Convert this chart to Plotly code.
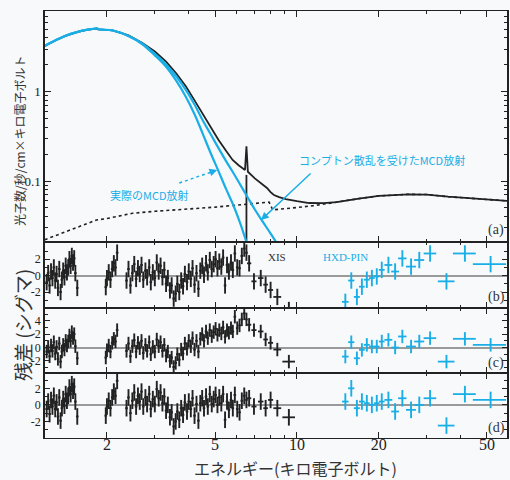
import numpy as np
import plotly.graph_objects as go
from plotly.subplots import make_subplots

BLUE = '#19aee6'
INK = '#222222'
BG = '#f8f9fb'
SERIF = 'Liberation Serif'
JP = 'Noto Sans CJK JP'

# ---------------- panel (a): model components ----------------
total_energy = [1.18, 1.22, 1.29, 1.40, 1.55, 1.70, 1.84, 1.86, 2.1, 2.4, 2.7, 3.0, 3.3, 3.6,
                3.9, 4.2, 4.5, 4.8, 5.14, 5.5, 5.8, 6.1, 6.44, 6.52, 6.6, 7.0, 7.4, 7.76,
                8.0, 8.23, 8.6, 9.1, 10.0, 11.1, 12.5, 14.0, 16.9, 20.0, 25.7, 30.0, 36.0,
                45.0, 60.0]
total_flux = [3.25, 3.45, 3.75, 4.2, 4.65, 4.95, 5.1, 5.0, 4.87, 4.27, 3.52, 2.82, 2.17, 1.6,
              1.15, 0.8, 0.56, 0.4, 0.29, 0.215, 0.172, 0.15, 0.133, 0.245, 0.127, 0.107,
              0.093, 0.0835, 0.075, 0.0697, 0.066, 0.0628, 0.0595, 0.0567, 0.0565, 0.058,
              0.0635, 0.068, 0.071, 0.0705, 0.0667, 0.0635, 0.0598]

mcd_energy = [1.18, 1.22, 1.29, 1.40, 1.55, 1.70, 1.84, 1.86, 2.1, 2.4, 2.7, 3.0, 3.3, 3.6,
              3.9, 4.2, 4.5, 4.8, 5.14, 5.5, 5.8, 6.2, 6.6, 7.0]
mcd_flux = [3.25, 3.45, 3.75, 4.2, 4.65, 4.95, 5.1, 5.0, 4.85, 4.2, 3.4, 2.55, 1.9, 1.32,
            0.88, 0.56, 0.34, 0.21, 0.13, 0.08, 0.056, 0.033, 0.0185, 0.011]

comp_energy = [1.18, 1.22, 1.29, 1.40, 1.55, 1.70, 1.84, 1.86, 2.1, 2.4, 2.7, 3.0, 3.3, 3.6,
               3.9, 4.2, 4.5, 4.8, 5.14, 5.5, 5.8, 6.2, 6.6, 7.0, 7.4, 7.8, 8.4, 9.0]
comp_flux = [3.25, 3.45, 3.75, 4.2, 4.65, 4.95, 5.1, 5.0, 4.85, 4.22, 3.45, 2.65, 2.02, 1.48,
             1.05, 0.72, 0.48, 0.34, 0.235, 0.165, 0.127, 0.09, 0.065, 0.048, 0.037, 0.029,
             0.0205, 0.0145]

pl_energy = [1.18, 1.4, 1.6, 1.83, 2.0, 2.48, 3.0, 3.5, 4.0, 5.0, 6.0, 7.0, 7.9, 8.15, 9.0,
             10.0, 11.5, 13.0, 14.0, 16.9, 20.0, 25.7, 30.0, 36.0, 45.0, 60.0]
pl_flux = [0.022, 0.027, 0.0318, 0.0366, 0.038, 0.0435, 0.0458, 0.0472, 0.0484, 0.051,
           0.0537, 0.056, 0.058, 0.0475, 0.0485, 0.0505, 0.053, 0.0565, 0.058, 0.0635,
           0.068, 0.071, 0.0705, 0.0667, 0.0635, 0.0598]

line_energy = [6.52, 6.52]
line_flux = [0.117, 0.01]

# ---------------- residuals: XIS ----------------
xis_energy = [
    1.20, 1.215, 1.23, 1.245, 1.26, 1.275, 1.29, 1.305, 1.32, 1.335, 1.35, 1.365, 1.38, 1.395,
    1.41, 1.425, 1.44, 1.455, 1.47, 1.485, 1.50, 1.515, 1.53, 1.555,
    1.98, 2.00, 2.03, 2.06, 2.09, 2.12, 2.15, 2.18,
    2.36, 2.40, 2.44, 2.48, 2.52, 2.56, 2.60, 2.64, 2.68, 2.72,
    2.77, 2.81, 2.86, 2.90, 2.95, 3.00, 3.05, 3.10, 3.15, 3.20,
    3.25, 3.30, 3.35, 3.41, 3.46, 3.52, 3.58, 3.63, 3.69, 3.75,
    3.81, 3.87, 3.94, 4.00, 4.07, 4.13, 4.20, 4.27, 4.34, 4.41,
    4.48, 4.55, 4.63, 4.70, 4.78, 4.86, 4.94, 5.02, 5.10, 5.18,
    5.27, 5.35, 5.44, 5.53, 5.62, 5.72, 5.81,
    5.91, 6.03, 6.15, 6.27, 6.40, 6.52]
xis_res_b = [
    -0.8, 0.3, -1.2, 0.5, -0.3, 1.0, -0.6, 0.2, -1.5, 0.8, -2.0, -0.5, 0.6, -0.2,
    1.2, 0.4, 1.0, 2.0, 1.2, 2.4, 1.6, 2.1, 0.3, -1.5,
    -1.4, -0.3, 0.4, -0.5, 0.8, 1.5, 1.0, 2.8,
    -0.6, 0.8, -1.2, 0.3, 1.4, -0.4, 0.9, 0.2, 1.3, -0.5,
    0.6, -0.2, 1.0, -0.8, 0.4, -0.3, 1.6, 0.5, 1.2, -0.2,
    0.7, -1.0, -0.3, -1.8, -1.2, -2.8, -2.2, -1.0, -2.0, -0.6,
    -1.3, 0.2, -0.8, 0.5, -0.4, 0.9, -1.1, 0.3, -1.6, 0.6,
    1.2, 0.1, 1.5, 0.4, 1.9, 0.8, 1.4, 2.0, 0.9, 1.7,
    1.1, 2.2, -1.2, 1.3, 0.5, 1.6, 0.7,
    2.7, 1.0, 0.9, 2.4, 3.3, 2.8]
xis_res_c = [
    -0.6, 0.1, -1.3, 0.3, -0.5, 0.8, -0.9, 0.1, -1.7, 0.6, -2.1, -0.6, 0.4, -0.3,
    1.0, 0.3, 0.9, 1.8, 1.0, 2.3, 1.4, 2.0, 0.2, -1.6,
    -1.5, -0.4, 0.3, -0.6, 0.7, 1.3, 0.9, 2.6,
    -0.5, 0.6, -1.3, 0.2, 1.1, -0.6, 0.7, -0.1, 1.0, -0.8,
    0.4, -0.5, 0.8, -1.0, 0.1, -0.6, 1.2, 0.2, 0.8, -0.5,
    0.4, -1.2, -0.6, -2.0, -1.5, -2.9, -2.3, -1.0, -1.8, -0.3,
    -0.9, 0.6, -0.2, 1.0, 0.2, 1.4, -0.3, 1.0, -0.6, 1.3,
    2.0, 1.0, 2.4, 1.4, 2.6, 1.7, 2.3, 2.8, 1.9, 2.6,
    2.1, 3.0, 1.6, 2.6, 2.2, 2.9, 2.4,
    4.6, 2.9, 3.3, 4.2, 5.1, 4.2]
xis_res_d = [
    -0.5, 0.4, -1.1, 0.6, -0.2, 1.1, -0.5, 0.3, -1.4, 0.9, -1.9, -0.4, 0.7, -0.1,
    1.3, 0.5, 1.1, 2.1, 1.3, 2.5, 1.7, 2.2, 0.4, -1.4,
    -1.3, -0.2, 0.5, -0.4, 0.9, 1.6, 1.1, 2.9,
    -0.4, 0.9, -1.0, 0.5, 1.5, -0.2, 1.1, 0.4, 1.6, -0.2,
    0.9, 0.1, 1.3, -0.5, 0.7, 0.1, 1.9, 0.8, 1.5, 0.2,
    1.0, -0.7, 0.0, -1.5, -0.9, -2.6, -2.0, -0.8, -1.8, -0.4,
    -1.2, 0.3, -0.8, 0.4, -0.5, 0.8, -1.3, 0.1, -1.9, 0.2,
    0.8, -0.4, 1.0, -0.2, 1.3, 0.1, 0.7, 1.2, 0.0, 0.9,
    0.2, 1.3, -1.8, 0.4, -0.6, 0.6, -0.4,
    1.2, -0.5, -0.9, 0.5, 1.1, 0.6]

xis_hi_energy = [6.67, 6.95, 7.36, 7.67, 8.0, 8.47, 9.34]
xis_hi_halfwidth = [0.12, 0.15, 0.17, 0.15, 0.17, 0.28, 0.5]
xis_hi_res_b = [1.5, -0.7, -0.3, -1.1, -1.75, -2.6, -4.2]
xis_hi_res_c = [3.4, 2.6, 2.4, 1.2, 0.7, -0.3, -2.1]
xis_hi_res_d = [0.8, -0.2, 0.4, -0.4, 0.6, -0.4, -1.5]

# ---------------- residuals: HXD-PIN ----------------
hxd_energy = [15.07, 15.85, 16.62, 17.34, 18.08, 18.87, 19.67, 20.52, 21.71, 22.98, 24.43,
              26.3, 28.2, 30.9, 35.5, 41.5, 51.6]
hxd_halfwidth = [0.42, 0.42, 0.42, 0.42, 0.45, 0.45, 0.47, 0.5, 0.73, 0.75, 0.87, 1.1, 1.2,
                 1.65, 2.5, 4.0, 7.2]
hxd_res_b = [-3.2, -0.6, -2.6, -1.35, -0.5, -0.3, -0.1, 0.7, 1.3, 0.5, 2.1, 1.1, 1.9, 2.7,
             -0.7, 2.7, 1.4]
hxd_res_c = [-1.35, 0.8, -1.6, -0.35, 0.4, 0.15, 0.15, 0.9, 1.15, 0.0, 1.65, 0.15, 0.9, 1.4,
             -2.1, 1.3, 0.4]
hxd_res_d = [0.4, 2.0, -0.4, 0.4, 0.2, 0.0, 0.2, 0.4, 0.6, -0.8, 0.8, -0.6, 0.0, 0.8, -2.5,
             1.3, 0.6]

x_tickvals = [2, 5, 10, 20, 50]
x_ticktext = ['2', '5', '10', '20', '50']

fig = make_subplots(rows=4, cols=1, shared_xaxes=True, vertical_spacing=0,
                    row_heights=[231, 66, 65, 65])

# panel (a)
fig.add_trace(go.Scatter(x=pl_energy, y=pl_flux, mode='lines',
                         line=dict(color=INK, width=1.6, dash='dot')), row=1, col=1)
fig.add_trace(go.Scatter(x=total_energy, y=total_flux, mode='lines',
                         line=dict(color=INK, width=1.8)), row=1, col=1)
fig.add_trace(go.Scatter(x=line_energy, y=line_flux, mode='lines',
                         line=dict(color=INK, width=1.8)), row=1, col=1)
fig.add_trace(go.Scatter(x=mcd_energy, y=mcd_flux, mode='lines', line_shape='spline',
                         line=dict(color=BLUE, width=2.2)), row=1, col=1)
fig.add_trace(go.Scatter(x=comp_energy, y=comp_flux, mode='lines', line_shape='spline',
                         line=dict(color=BLUE, width=2.2)), row=1, col=1)

# dotted arrow shaft for "actual MCD"
arrow1_tail = (3.69, 0.095)
arrow1_head = (5.09, 0.133)
fig.add_trace(go.Scatter(x=[arrow1_tail[0], 4.95], y=[arrow1_tail[1], 0.129], mode='lines',
                         line=dict(color=BLUE, width=1.4, dash='dot')), row=1, col=1)

def resid(row, energy, res, color, xerr=None, pct=None):
    ex = dict(type='percent', value=pct, width=0, thickness=1.9, color=color) if pct else \
        dict(type='data', array=xerr, width=0, thickness=1.8, color=color)
    fig.add_trace(go.Scatter(
        x=energy, y=res, mode='markers', marker=dict(size=1, color=color),
        error_y=dict(type='constant', value=1, width=0, thickness=1.9, color=color),
        error_x=ex), row=row, col=1)

for row, xr, xh, hr in [(2, xis_res_b, xis_hi_res_b, hxd_res_b),
                        (3, xis_res_c, xis_hi_res_c, hxd_res_c),
                        (4, xis_res_d, xis_hi_res_d, hxd_res_d)]:
    resid(row, xis_energy, xr, INK, pct=1.1)
    resid(row, xis_hi_energy, xh, INK, xerr=xis_hi_halfwidth)
    resid(row, hxd_energy, hr, BLUE, xerr=hxd_halfwidth)

axis_common = dict(showline=True, linecolor=INK, mirror='allticks',
                   ticks='inside', tickcolor=INK, tickwidth=1.2, showgrid=False)

for r in range(1, 5):
    fig.update_xaxes(type='log', range=[0.073, 1.773], tickvals=x_tickvals,
                     ticktext=x_ticktext, ticklen=6, zeroline=False, linewidth=1.1,
                     showticklabels=(r == 4), ticklabelstandoff=-8,
                     tickfont=dict(family=SERIF, size=16, color=INK),
                     minor=dict(ticks='inside', ticklen=3, tickcolor=INK,
                                tickvals=[3, 4, 6, 7, 8, 9, 30, 40]),
                     row=r, col=1, **axis_common)

fig.update_yaxes(type='log', range=[-1.683, 0.904], tickvals=[0.1, 1], ticktext=['0.1', '1'],
                 ticklen=6, tickfont=dict(family=SERIF, size=13, color=INK), linewidth=1.5,
                 minor=dict(ticks='inside', ticklen=3, tickcolor=INK,
                            tickvals=[0.03, 0.04, 0.05, 0.06, 0.07, 0.08, 0.09,
                                      0.2, 0.3, 0.4, 0.5, 0.6, 0.7, 0.8, 0.9,
                                      2, 3, 4, 5, 6, 7, 8]),
                 zeroline=False, row=1, col=1, **axis_common)

res_ranges = {2: ([-3.95, 4.1], [-2, 0, 2]),
              3: ([-3.8, 5.9], [-2, 0, 2, 4]),
              4: ([-4.0, 3.85], [-2, 0, 2])}
for r, (rng, tv) in res_ranges.items():
    fig.update_yaxes(range=rng, tickvals=tv, ticktext=[str(v) for v in tv], ticklen=5,
                     tickfont=dict(family=SERIF, size=12, color=INK), linewidth=1.5,
                     minor=dict(ticks='inside', ticklen=3, tickcolor=INK, dtick=1, tick0=0),
                     zeroline=True, zerolinecolor='#9a9a9a', zerolinewidth=1.6,
                     row=r, col=1, **axis_common)

L = np.log10
C = dict(xanchor='center', yanchor='middle', showarrow=False)
annotations = [
    dict(x=L(2.87), y=L(0.0697), xref='x', yref='y', text='実際のMCD放射',
         font=dict(family=JP, size=11, color=BLUE), **C),
    dict(x=L(20.6), y=L(0.172), xref='x', yref='y', text='コンプトン散乱を受けたMCD放射',
         font=dict(family=JP, size=11, color=BLUE), **C),
    dict(x=L(arrow1_head[0]), y=L(arrow1_head[1]), xref='x', yref='y', text='',
         showarrow=True, arrowhead=2, arrowsize=1.1, arrowwidth=1.4, arrowcolor=BLUE,
         ax=-10, ay=3.4, standoff=0),
    dict(x=L(7.38), y=L(0.0366), xref='x', yref='y', text='', showarrow=True, arrowhead=2,
         arrowsize=1.1, arrowwidth=1.4, arrowcolor=BLUE, ax=51, ay=-48, standoff=0),
    dict(x=0.977, y=0.487, xref='paper', yref='paper', text='(a)',
         font=dict(family=SERIF, size=14, color='#333333'), **C),
    dict(x=0.977, y=0.331, xref='paper', yref='paper', text='(b)',
         font=dict(family=SERIF, size=14, color='#333333'), **C),
    dict(x=0.977, y=0.175, xref='paper', yref='paper', text='(c)',
         font=dict(family=SERIF, size=14, color='#333333'), **C),
    dict(x=0.977, y=0.024, xref='paper', yref='paper', text='(d)',
         font=dict(family=SERIF, size=14, color='#333333'), **C),
    dict(x=0.502, y=0.424, xref='paper', yref='paper', text='XIS',
         font=dict(family=SERIF, size=11, color='#333333'), **C),
    dict(x=0.651, y=0.424, xref='paper', yref='paper', text='HXD-PIN',
         font=dict(family=SERIF, size=11, color=BLUE), **C),
    dict(x=-0.054, y=0.6956, xref='paper', yref='paper', text='光子数/秒/cm×キロ電子ボルト',
         textangle=-90, font=dict(family=JP, size=12, color='#333333'), **C),
    dict(x=-0.05, y=0.2646, xref='paper', yref='paper', text='残差 (シグマ)',
         textangle=-90, font=dict(family=JP, size=19, color='#333333'), **C),
    dict(x=0.543, y=-0.071, xref='paper', yref='paper', text='エネルギー(キロ電子ボルト)',
         font=dict(family=JP, size=16, color='#333333'), **C),
]

fig.update_layout(width=510, height=480, margin=dict(l=45, r=1, t=11, b=42),
                  paper_bgcolor=BG, plot_bgcolor=BG, showlegend=False,
                  annotations=annotations)

fig.write_html('out.html', config={'displayModeBar': False},
               post_script="document.body.style.margin='0px';")
